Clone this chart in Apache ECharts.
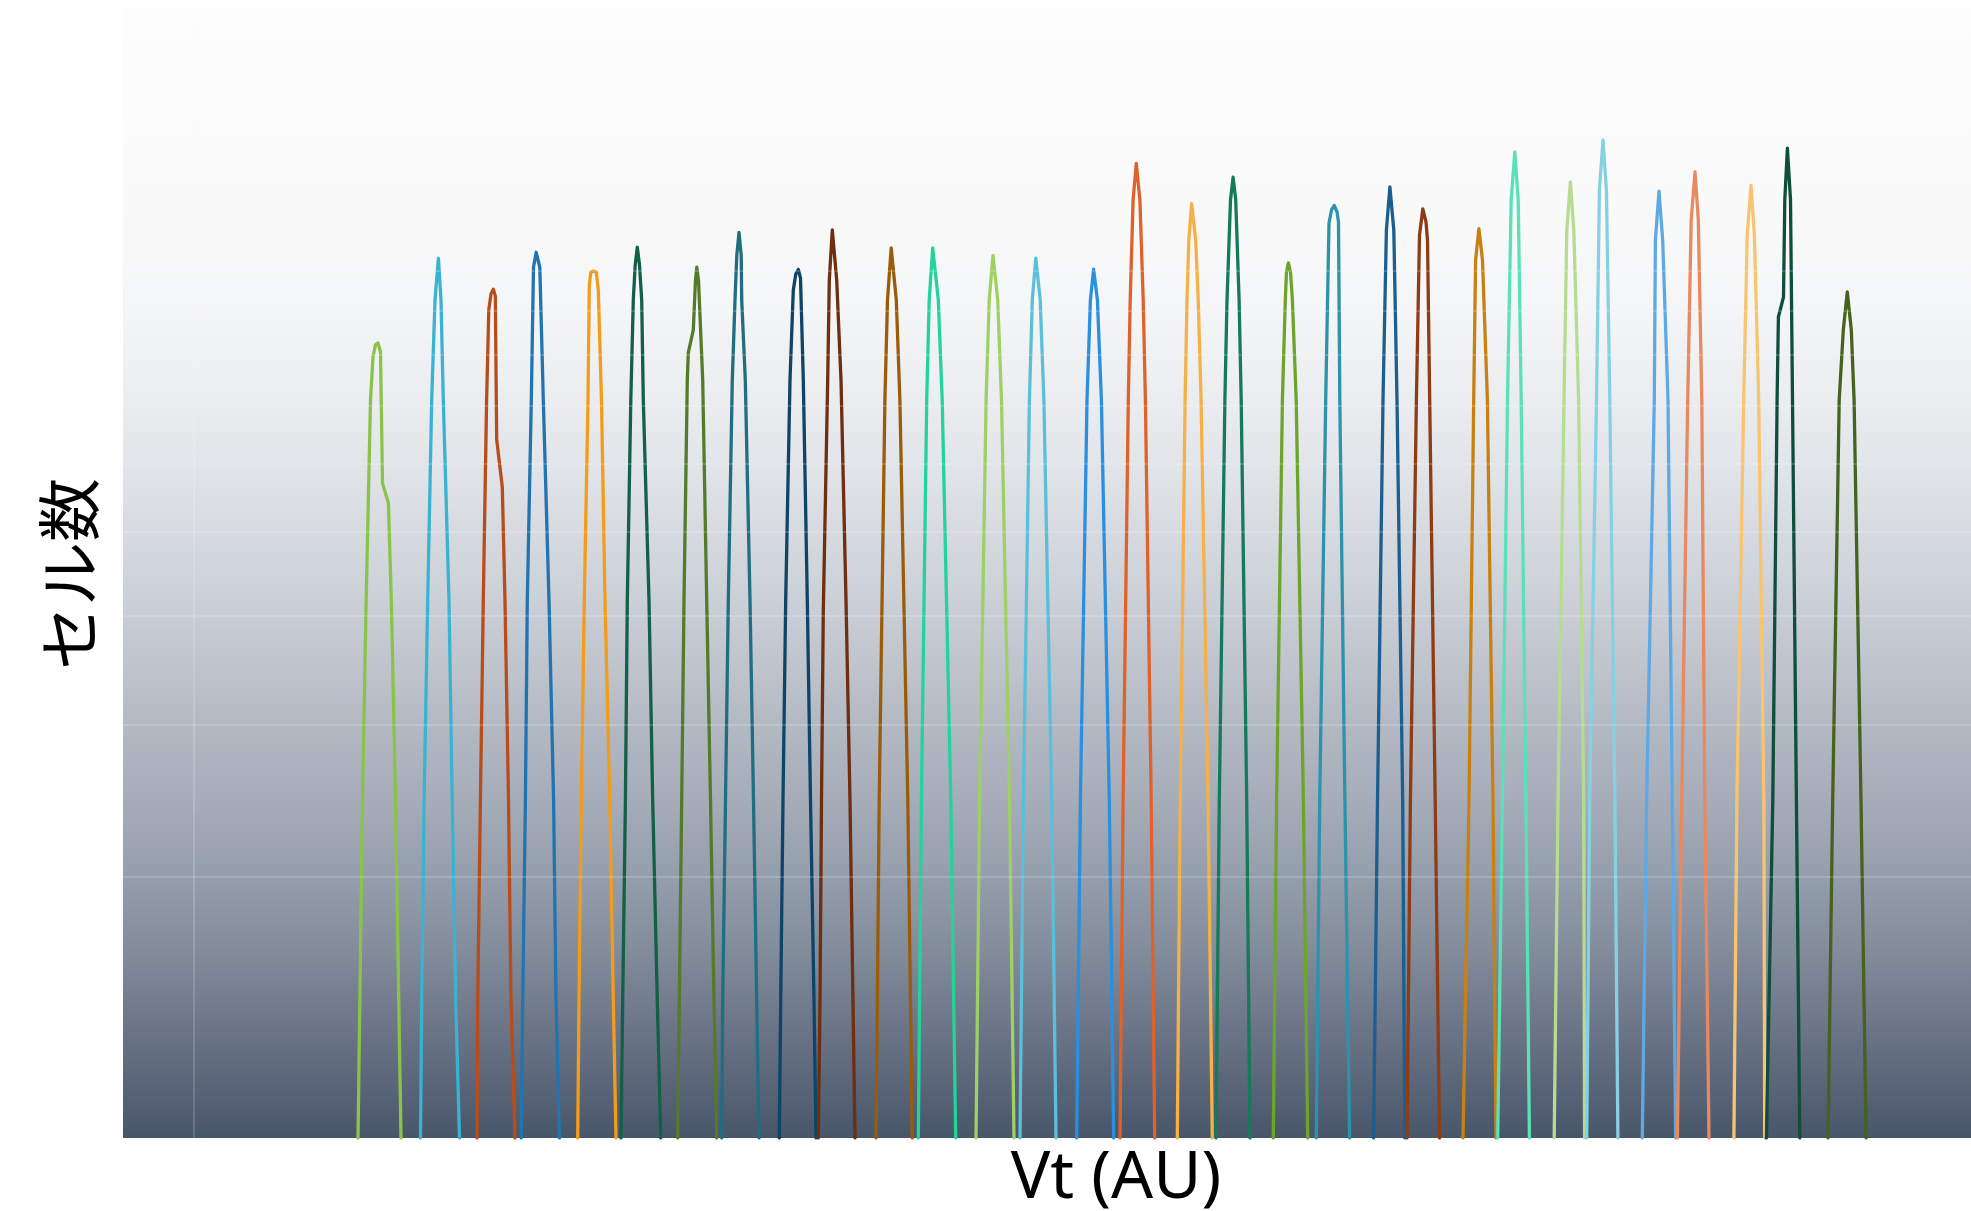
<!DOCTYPE html>
<html>
<head>
<meta charset="utf-8">
<title>Vt distribution</title>
<script src="https://cdn.jsdelivr.net/npm/echarts@6/dist/echarts.min.js"></script>
<style>
html,body{margin:0;padding:0;background:#ffffff;}
#chart{width:1971px;height:1211px;}
</style>
</head>
<body>
<div id="chart"></div>
<script>
// Each state: [Vt (AU), cell count]
const peak01 = [[1.64,100],[1.685,245],[1.72,409],[1.765,710],[1.79,796],[1.815,822],[1.84,826],[1.865,807],[1.885,569],[1.944,540],[1.975,409],[2.015,245],[2.07,100]];
const peak02 = [[2.265,100],[2.277,144],[2.301,245],[2.337,417],[2.377,710],[2.41,926],[2.444,1034],[2.47,926],[2.493,710],[2.55,417],[2.582,245],[2.617,144],[2.655,100]];
const peak03 = [[2.83,100],[2.837,144],[2.864,245],[2.893,417],[2.926,710],[2.948,902],[2.97,941],[2.993,953],[3.013,936],[3.027,639],[3.083,563],[3.11,417],[3.145,245],[3.17,144],[3.21,100]];
const peak04 = [[3.272,100],[3.287,144],[3.314,245],[3.333,417],[3.373,710],[3.395,1010],[3.422,1051],[3.458,1010],[3.493,710],[3.55,417],[3.596,245],[3.62,144],[3.654,100]];
const peak05 = [[3.837,100],[3.85,144],[3.873,245],[3.903,417],[3.94,710],[3.953,963],[3.968,997],[3.995,1000],[4.023,997],[4.043,951],[4.075,710],[4.11,417],[4.158,245],[4.193,144],[4.22,100]];
const peak06 = [[4.27,100],[4.287,144],[4.314,245],[4.333,417],[4.368,710],[4.393,926],[4.412,1016],[4.433,1065],[4.455,1016],[4.477,926],[4.493,710],[4.55,417],[4.587,245],[4.633,144],[4.667,100]];
const peak07 = [[4.837,100],[4.853,144],[4.877,245],[4.9,417],[4.933,749],[4.943,805],[4.993,855],[5.015,976],[5.028,1010],[5.045,976],[5.087,749],[5.127,417],[5.165,245],[5.2,144],[5.227,100]];
const peak08 = [[5.277,100],[5.287,144],[5.315,245],[5.343,417],[5.383,749],[5.41,926],[5.428,1043],[5.45,1108],[5.472,1043],[5.477,926],[5.513,749],[5.56,417],[5.595,245],[5.627,144],[5.65,100]];
const peak09 = [[5.853,100],[5.867,144],[5.89,245],[5.917,417],[5.96,749],[5.993,951],[6.018,992],[6.043,1004],[6.065,981],[6.093,749],[6.133,417],[6.165,245],[6.2,144],[6.22,100]];
const peak10 = [[6.243,100],[6.26,144],[6.275,245],[6.293,406],[6.337,749],[6.353,976],[6.383,1115],[6.427,976],[6.47,749],[6.52,417],[6.56,245],[6.61,100]];
const peak11 = [[6.82,100],[6.852,245],[6.909,710],[6.935,926],[6.972,1063],[7.023,926],[7.059,710],[7.138,245],[7.183,100]];
const peak12 = [[7.243,100],[7.274,245],[7.327,710],[7.352,926],[7.387,1063],[7.443,926],[7.482,710],[7.568,245],[7.617,100]];
const peak13 = [[7.82,100],[7.856,245],[7.921,710],[7.952,926],[7.99,1042],[8.037,926],[8.075,710],[8.155,245],[8.2,100]];
const peak14 = [[8.26,100],[8.294,245],[8.354,710],[8.383,926],[8.418,1035],[8.462,926],[8.499,710],[8.577,245],[8.62,100]];
const peak15 = [[8.827,100],[8.864,245],[8.93,710],[8.964,926],[8.996,1005],[9.034,926],[9.074,710],[9.153,245],[9.197,100]];
const peak16 = [[9.26,100],[9.291,245],[9.343,710],[9.362,926],[9.391,1208],[9.423,1331],[9.459,1208],[9.492,926],[9.514,710],[9.572,245],[9.607,100]];
const peak17 = [[9.833,100],[9.862,245],[9.911,710],[9.93,926],[9.948,1085],[9.976,1196],[10.017,1085],[10.042,926],[10.071,710],[10.141,245],[10.183,100]];
const peak18 = [[10.22,100],[10.253,245],[10.309,710],[10.33,926],[10.365,1208],[10.391,1283],[10.417,1208],[10.451,926],[10.472,710],[10.527,245],[10.56,100]];
const peak19 = [[10.793,100],[10.826,245],[10.884,710],[10.913,926],[10.925,997],[10.944,1022],[10.965,997],[10.984,926],[11.022,710],[11.094,245],[11.137,100]];
const peak20 = [[11.223,100],[11.257,245],[11.317,710],[11.35,1136],[11.375,1176],[11.402,1190],[11.43,1170],[11.445,1139],[11.458,710],[11.509,245],[11.556,100]];
const peak21 = [[11.796,100],[11.835,245],[11.89,710],[11.924,1115],[11.959,1250],[11.998,1115],[12.03,710],[12.087,245],[12.108,100]];
const peak22 = [[12.13,100],[12.164,245],[12.224,710],[12.255,1100],[12.288,1179],[12.32,1139],[12.335,1085],[12.357,710],[12.412,245],[12.455,100]];
const peak23 = [[12.69,100],[12.75,245],[12.797,710],[12.816,1029],[12.849,1119],[12.885,1029],[12.934,710],[12.99,245],[13.02,100]];
const peak24 = [[13.037,100],[13.084,245],[13.135,710],[13.172,1208],[13.208,1372],[13.242,1208],[13.272,710],[13.319,245],[13.354,100]];
const peak25 = [[13.602,100],[13.64,245],[13.7,710],[13.728,1115],[13.764,1267],[13.798,1115],[13.846,710],[13.897,245],[13.906,100]];
const peak26 = [[13.927,100],[13.957,245],[14.025,710],[14.054,1240],[14.09,1416],[14.124,1240],[14.158,710],[14.209,245],[14.239,100]];
const peak27 = [[14.483,100],[14.526,245],[14.603,710],[14.614,1085],[14.65,1236],[14.687,1085],[14.74,710],[14.783,245],[14.817,100]];
const peak28 = [[14.834,100],[14.877,245],[14.937,710],[14.972,1145],[15.01,1301],[15.043,1145],[15.078,710],[15.108,245],[15.15,100]];
const peak29 = [[15.399,100],[15.429,245],[15.497,710],[15.532,1100],[15.57,1255],[15.604,1100],[15.647,710],[15.699,245],[15.707,100]];
const peak30 = [[15.724,100],[15.788,245],[15.831,710],[15.844,885],[15.895,933],[15.908,1208],[15.934,1386],[15.965,1208],[15.985,710],[16.024,245],[16.058,100]];
const peak31 = [[16.34,100],[16.387,245],[16.452,710],[16.493,855],[16.533,946],[16.573,855],[16.601,710],[16.67,245],[16.721,100]];

const peakColors = ['#8bc34a','#3ab3d3','#b84d1b','#2274b0','#f39c1b','#135f47','#567a2b','#206e80','#0f4466','#6e2e0f',
  '#9a5c0b','#23d39b','#9fcf65','#5bbfda','#2b8fdf','#e0622b','#f5b048','#147a5b','#6ea42c','#2c93ab',
  '#1b5e8f','#8f3c14','#c98013','#5be1b8','#b7dc91','#85d1e2','#5ea9e4','#e9895f','#f9c470','#0f4e3b','#46621f'];

const peaks = [peak01,peak02,peak03,peak04,peak05,peak06,peak07,peak08,peak09,peak10,peak11,peak12,peak13,peak14,peak15,
  peak16,peak17,peak18,peak19,peak20,peak21,peak22,peak23,peak24,peak25,peak26,peak27,peak28,peak29,peak30,peak31];

const yGridValues = [200,300,400,500,600,700,800,900,1000,2000];
const xGridValues = [0];
const xRange = [-0.71, 17.77];
const yRange = [100, 2000];
const xTitle = 'Vt (AU)';
const yTitle = 'セル数';

const chart = echarts.init(document.getElementById('chart'), null, {renderer: 'canvas'});

const series = peaks.map((d, i) => ({
  type: 'line',
  name: 'state' + (i + 1),
  data: d,
  showSymbol: false,
  symbol: 'none',
  smooth: false,
  clip: true,
  silent: true,
  z: 3,
  lineStyle: {color: peakColors[i], width: 3.3, cap: 'round', join: 'round'}
}));

const gridLineStyle = {color: 'rgba(248,248,255,0.17)', width: 2, type: 'solid'};
series.push({
  type: 'line',
  name: 'grid',
  data: [],
  silent: true,
  z: 1,
  markLine: {
    silent: true,
    symbol: ['none','none'],
    label: {show: false},
    animation: false,
    lineStyle: gridLineStyle,
    data: yGridValues.map(v => ({yAxis: v})).concat(xGridValues.map(v => ({xAxis: v})))
  }
});

chart.setOption({
  animation: false,
  backgroundColor: '#ffffff',
  grid: {
    left: 123, right: 0, top: 10, bottom: 73,
    outerBoundsMode: 'none',
    containLabel: false,
    show: true, borderWidth: 0,
    backgroundColor: {
      type: 'linear', x: 0, y: 0, x2: 0, y2: 1,
      colorStops: [
        {offset: 0, color: '#fdfdfd'},
        {offset: 0.12, color: '#fbfbfb'},
        {offset: 0.26, color: '#f5f6f7'},
        {offset: 0.35, color: '#eaecef'},
        {offset: 0.40, color: '#e2e5e9'},
        {offset: 0.465, color: '#d6dae0'},
        {offset: 0.54, color: '#c8ccd4'},
        {offset: 0.635, color: '#b3b9c3'},
        {offset: 0.70, color: '#a6adb9'},
        {offset: 0.768, color: '#959eac'},
        {offset: 0.833, color: '#828c9b'},
        {offset: 0.90, color: '#6c7688'},
        {offset: 0.966, color: '#556174'},
        {offset: 1, color: '#48566a'}
      ]
    }
  },
  xAxis: {
    type: 'value',
    min: xRange[0], max: xRange[1],
    name: xTitle,
    nameLocation: 'middle',
    nameGap: 8,
    nameTextStyle: {fontFamily: 'Noto Sans', fontSize: 66, color: '#000000', padding: [0, 0, 0, 138]},
    axisLine: {show: false}, axisTick: {show: false}, axisLabel: {show: false}, splitLine: {show: false}
  },
  yAxis: {
    type: 'log',
    logBase: 10,
    min: yRange[0], max: yRange[1],
    name: yTitle,
    nameLocation: 'middle',
    nameRotate: 90,
    nameGap: 22,
    nameTextStyle: {fontFamily: 'Noto Sans CJK JP', fontSize: 64, color: '#000000'},
    axisLine: {show: false}, axisTick: {show: false}, axisLabel: {show: false}, splitLine: {show: false}
  },
  series: series
});
</script>
</body>
</html>
